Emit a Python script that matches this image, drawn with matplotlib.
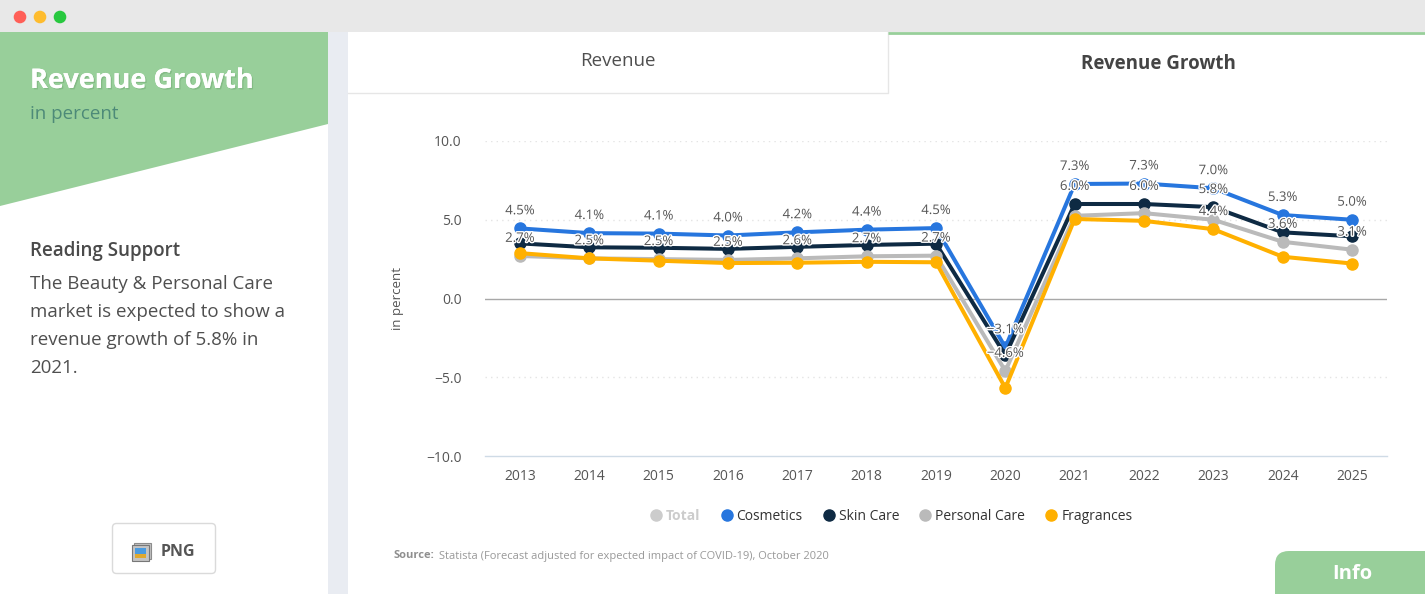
import matplotlib
matplotlib.use('Agg')
import matplotlib.patheffects as pe
import matplotlib.pyplot as plt
from matplotlib.lines import Line2D
from matplotlib.patches import Circle, FancyBboxPatch, Polygon, Rectangle

plt.rcParams['font.family'] = ['Open Sans', 'DejaVu Sans']

years = [2013, 2014, 2015, 2016, 2017, 2018, 2019, 2020, 2021, 2022, 2023, 2024, 2025]
cosmetics = [4.45, 4.15, 4.12, 4.0, 4.2, 4.37, 4.47, -3.1, 7.27, 7.3, 7.0, 5.3, 5.0]
skin_care = [3.5, 3.25, 3.22, 3.15, 3.28, 3.4, 3.48, -3.6, 6.0, 6.0, 5.8, 4.2, 3.95]
personal_care = [2.7, 2.55, 2.5, 2.45, 2.55, 2.68, 2.72, -4.6, 5.25, 5.42, 5.0, 3.6, 3.1]
fragrances = [2.88, 2.55, 2.4, 2.25, 2.27, 2.33, 2.3, -5.68, 5.05, 4.93, 4.4, 2.65, 2.22]

series_names = ['Cosmetics', 'Skin Care', 'Personal Care', 'Fragrances']
series_colors = ['#2776de', '#0e2a43', '#bababa', '#ffb000']

# only these labels survive the overlap removal in the original
cosmetics_labels = ['4.5', '4.1', '4.1', '4.0', '4.2', '4.4', '4.5', '\u22123.1', '7.3', '7.3', '7.0', '5.3', '5.0']
personal_years = [2013, 2014, 2015, 2016, 2017, 2018, 2019, 2020, 2024, 2025]
personal_labels = ['2.7', '2.5', '2.5', '2.5', '2.6', '2.7', '2.7', '\u22124.6', '3.6', '3.1']
skin_years = [2021, 2022, 2023]
skin_labels = ['6.0', '6.0', '5.8']
fragrance_years = [2023]
fragrance_labels = ['4.4']

W, H = 1425, 594
GREEN = '#98cf9a'

fig = plt.figure(figsize=(W / 100, H / 100), dpi=100, facecolor='white')

# page chrome in pixel coordinates
bg = fig.add_axes([0, 0, 1, 1], zorder=0)
bg.set_xlim(0, W)
bg.set_ylim(H, 0)
bg.axis('off')

bg.add_patch(Rectangle((0, 0), W, 32, fc='#e8e8e8', ec='none'))
for x, c in zip([20, 40, 60], ['#ff5f57', '#febc2e', '#28c83f']):
    bg.add_patch(Circle((x, 17), 6.3, fc=c, ec='none'))

bg.add_patch(Rectangle((328, 32), 20, H - 32, fc='#e9ecf2', ec='none'))
bg.add_patch(Polygon([(0, 32), (328, 32), (328, 124), (0, 206)], fc=GREEN, ec='none'))

title = bg.text(30, 81, 'Revenue Growth', fontsize=19.5, fontweight='bold', color='white', va='center')
title.set_path_effects([pe.withSimplePatchShadow(offset=(1, -1), shadow_rgbFace='#70a872', alpha=0.5), pe.Normal()])
bg.text(30, 114, 'in percent', fontsize=13.5, color='#4d8a78', va='center')

bg.text(30, 251, 'Reading Support', fontsize=13.5, fontweight='semibold', color='#4a4a4a', va='center')
for y, line in zip([284, 312, 340, 368], ['The Beauty & Personal Care', 'market is expected to show a',
                                          'revenue growth of 5.8% in', '2021.']):
    bg.text(30, y, line, fontsize=13.5, color='#4f4f4f', va='center')

# PNG button
bg.add_patch(FancyBboxPatch((112.5, 523.5), 103, 50, boxstyle='round,pad=0,rounding_size=4',
                            fc='white', ec='#dadada', lw=1))
bg.add_patch(Rectangle((134, 543), 17, 16, fc='#c4c4c4', ec='#8c8c8c', lw=0.8))
bg.add_patch(Rectangle((132, 545), 17, 16, fc='#c4c4c4', ec='#777777', lw=0.8))
bg.add_patch(Rectangle((135, 548), 11, 6, fc='#4a9be0', ec='none'))
bg.add_patch(Rectangle((135, 554), 11, 4, fc='#e0a92e', ec='none'))
bg.text(161, 552, 'PNG', fontsize=11.5, fontweight='bold', color='#555555', va='center')

# tabs
bg.add_patch(Rectangle((348, 32), 540, 61, fc='white', ec='none'))
bg.plot([348, 888, 888], [92.5, 92.5, 32], color='#e6e6e6', lw=1)
bg.plot([888, W], [33, 33], color=GREEN, lw=2, solid_capstyle='butt')
bg.text(618, 61, 'Revenue', fontsize=13.5, color='#4f4f4f', ha='center', va='center')
bg.text(1158, 64, 'Revenue Growth', fontsize=13.5, fontweight='bold', color='#444444', ha='center', va='center')

# source and info button
src = bg.text(394, 556, 'Source:', fontsize=8, fontweight='bold', color='#8f8f8f', va='center')
bg.text(439, 556, 'Statista (Forecast adjusted for expected impact of COVID-19), October 2020',
        fontsize=8, color='#999999', va='center')
bg.add_patch(FancyBboxPatch((1275, 551), 170, 70, boxstyle='round,pad=0,rounding_size=14', fc=GREEN, ec='none'))
bg.text(1352, 574, 'Info', fontsize=14.5, fontweight='bold', color='white', ha='center', va='center')

# chart
left, right, top, bottom = 485.3, 1386.7, 141, 456
ax = fig.add_axes([left / W, 1 - bottom / H, (right - left) / W, (bottom - top) / H], zorder=1)
ax.patch.set_alpha(0)
ax.set_xlim(2012.5, 2025.5)
ax.set_ylim(-10, 10)

for spine in ['top', 'right', 'left']:
    ax.spines[spine].set_visible(False)
ax.spines['bottom'].set_color('#cfdbe6')
ax.spines['bottom'].set_linewidth(1)

ax.set_xticks(years)
ax.set_yticks([-10, -5, 0, 5, 10])
ax.set_yticklabels(['\u221210.0', '\u22125.0', '0.0', '5.0', '10.0'])
ax.tick_params(axis='both', length=0, labelsize=10, labelcolor='#555555')
ax.tick_params(axis='x', pad=9)
ax.tick_params(axis='y', pad=17)
for t in ax.get_yticklabels():
    t.set_fontsize(10)

for v in [10, 5, -5]:
    ax.axhline(v, color='#e4e4e4', lw=1, ls=(0, (1, 3)), zorder=1)
ax.axhline(0, color='#a8a8a8', lw=1, zorder=1.5)

ax.set_ylabel('in percent', fontsize=9.5, color='#555555', labelpad=16)

all_values = [cosmetics, skin_care, personal_care, fragrances]
for i, (name, values, color) in enumerate(zip(series_names, all_values, series_colors)):
    ax.plot(years, values, color=color, lw=2.9, marker='o', ms=8, mec=color, label=name,
            zorder=2 + i * 0.1, clip_on=False, solid_joinstyle='miter')


def add_labels(xs, values, labels):
    for x, label in zip(xs, labels):
        ax.annotate(label + '%', (x, values[years.index(x)]), xytext=(0, 8), textcoords='offset points',
                    ha='center', va='bottom', fontsize=9.5, color='#555555', zorder=5,
                    path_effects=[pe.withStroke(linewidth=2, foreground='white')])


add_labels(years, cosmetics, cosmetics_labels)
add_labels(personal_years, personal_care, personal_labels)
add_labels(skin_years, skin_care, skin_labels)
add_labels(fragrance_years, fragrances, fragrance_labels)

# legend, Total is switched off in the original
handles = [Line2D([], [], color='#cccccc', lw=0, marker='o', ms=8)]
handles += [Line2D([], [], color=c, lw=0, marker='o', ms=8) for c in series_colors]
leg = fig.legend(handles, ['Total'] + series_names, ncol=5, frameon=False, fontsize=10,
                 loc='center', bbox_to_anchor=(890 / W, 1 - 516 / H),
                 handletextpad=0.1, columnspacing=1.3, handlelength=1.2)
leg.get_texts()[0].set_color('#cccccc')
leg.get_texts()[0].set_fontweight('bold')
for t in leg.get_texts()[1:]:
    t.set_color('#333333')

fig.savefig('out.png', dpi=100)
